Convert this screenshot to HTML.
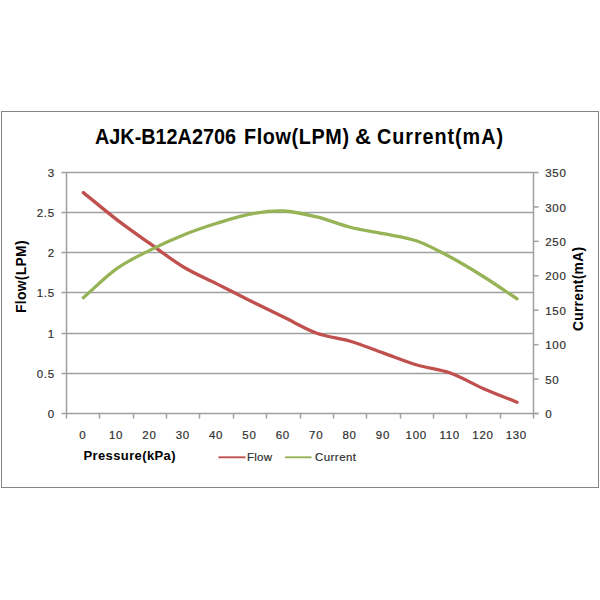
<!DOCTYPE html>
<html><head><meta charset="utf-8"><style>
html,body{margin:0;padding:0;background:#fff;width:600px;height:600px;overflow:hidden}
svg{display:block}
text{font-family:"Liberation Sans",sans-serif;fill:#303030}
.n{font-size:11.5px;letter-spacing:0.7px;stroke:#303030;stroke-width:0.2px}
.g{font-size:11.5px;stroke:#303030;stroke-width:0.2px}
.t{font-size:19.8px;font-weight:bold;fill:#000;stroke:#000;stroke-width:0px}
.b2{font-size:13.8px;font-weight:bold;fill:#000}
.b{font-size:13px;font-weight:bold;fill:#000;stroke:#000;stroke-width:0px}
.gr rect{fill:#A0A0A0}
</style></head><body>
<svg width="600" height="600" viewBox="0 0 600 600">
<rect x="1.5" y="111.5" width="597" height="376" fill="#fff" stroke="#858585" stroke-width="1"/>
<g class="gr">
<rect x="61.5" y="372.75" width="472.00" height="1.5"/>
<rect x="61.5" y="332.75" width="472.00" height="1.5"/>
<rect x="61.5" y="291.75" width="472.00" height="1.5"/>
<rect x="61.5" y="251.75" width="472.00" height="1.5"/>
<rect x="61.5" y="211.75" width="472.00" height="1.5"/>
<rect x="61.5" y="171.75" width="472.00" height="1.5"/>
<rect x="61.5" y="412.75" width="477.00" height="1.5"/>
<rect x="65.75" y="172.0" width="1.5" height="246.50"/>
<rect x="532.75" y="172.0" width="1.5" height="246.50"/>
<rect x="98.75" y="413.5" width="1.5" height="5.00"/>
<rect x="132.75" y="413.5" width="1.5" height="5.00"/>
<rect x="165.75" y="413.5" width="1.5" height="5.00"/>
<rect x="198.75" y="413.5" width="1.5" height="5.00"/>
<rect x="232.75" y="413.5" width="1.5" height="5.00"/>
<rect x="265.75" y="413.5" width="1.5" height="5.00"/>
<rect x="299.75" y="413.5" width="1.5" height="5.00"/>
<rect x="332.75" y="413.5" width="1.5" height="5.00"/>
<rect x="365.75" y="413.5" width="1.5" height="5.00"/>
<rect x="399.75" y="413.5" width="1.5" height="5.00"/>
<rect x="432.75" y="413.5" width="1.5" height="5.00"/>
<rect x="465.75" y="413.5" width="1.5" height="5.00"/>
<rect x="499.75" y="413.5" width="1.5" height="5.00"/>
<rect x="533.5" y="412.75" width="5.00" height="1.5"/>
<rect x="533.5" y="378.32" width="5.00" height="1.5"/>
<rect x="533.5" y="343.89" width="5.00" height="1.5"/>
<rect x="533.5" y="309.46" width="5.00" height="1.5"/>
<rect x="533.5" y="275.04" width="5.00" height="1.5"/>
<rect x="533.5" y="240.61" width="5.00" height="1.5"/>
<rect x="533.5" y="206.18" width="5.00" height="1.5"/>
<rect x="533.5" y="171.75" width="5.00" height="1.5"/>
</g>
<g id="series" transform="translate(0.2,0.5)">
<path d="M83.18,192.10 C94.30,201.10 105.42,210.58 116.54,219.09 C127.65,227.61 138.77,235.29 149.89,243.19 C161.01,251.09 172.13,259.80 183.25,266.49 C194.37,273.18 205.49,277.74 216.61,283.36 C227.73,288.98 238.85,294.70 249.96,300.23 C261.08,305.76 272.20,311.12 283.32,316.54 C294.44,321.96 305.56,328.73 316.68,332.76 C327.80,336.80 338.92,337.41 350.04,340.72 C361.15,344.03 372.27,348.64 383.39,352.61 C394.51,356.57 405.63,361.18 416.75,364.50 C427.87,367.82 438.99,368.58 450.11,372.53 C461.23,376.48 472.35,383.33 483.46,388.19 C494.58,393.06 505.70,397.19 516.82,401.69" fill="none" stroke="#C0504D" stroke-width="3.3" stroke-linecap="round" stroke-linejoin="round"/>
<path d="M83.18,297.13 C94.30,287.49 105.42,276.13 116.54,268.21 C127.65,260.29 138.77,255.24 149.89,249.62 C161.01,244.00 172.13,238.95 183.25,234.47 C194.37,230.00 205.49,226.24 216.61,222.77 C227.73,219.29 238.85,215.65 249.96,213.61 C261.08,211.56 272.20,210.04 283.32,210.51 C294.44,210.98 305.56,213.72 316.68,216.43 C327.80,219.14 338.92,223.96 350.04,226.76 C361.15,229.56 372.27,230.94 383.39,233.23 C394.51,235.53 405.63,236.64 416.75,240.53 C427.87,244.42 438.99,250.62 450.11,256.57 C461.23,262.53 472.35,269.31 483.46,276.27 C494.58,283.22 505.70,290.96 516.82,298.30" fill="none" stroke="#96B356" stroke-width="3.3" stroke-linecap="round" stroke-linejoin="round"/>
</g>
<g id="legend">
<line x1="218.5" y1="457.3" x2="245.5" y2="457.3" stroke="#C0504D" stroke-width="1.9"/>
<line x1="285" y1="457.3" x2="311.5" y2="457.3" stroke="#96B356" stroke-width="1.9"/>
</g>
<text id="l0" class="n" x="54.80" y="417.90" text-anchor="end">0</text>
<text id="l1" class="n" x="54.80" y="377.73" text-anchor="end">0.5</text>
<text id="l2" class="n" x="54.80" y="337.57" text-anchor="end">1</text>
<text id="l3" class="n" x="54.80" y="297.40" text-anchor="end">1.5</text>
<text id="l4" class="n" x="54.80" y="257.23" text-anchor="end">2</text>
<text id="l5" class="n" x="54.80" y="217.07" text-anchor="end">2.5</text>
<text id="l6" class="n" x="54.80" y="176.90" text-anchor="end">3</text>
<text id="r0" class="n" x="545.20" y="418.20">0</text>
<text id="r1" class="n" x="545.20" y="383.77">50</text>
<text id="r2" class="n" x="545.20" y="349.34">100</text>
<text id="r3" class="n" x="545.20" y="314.91">150</text>
<text id="r4" class="n" x="545.20" y="280.49">200</text>
<text id="r5" class="n" x="545.20" y="246.06">250</text>
<text id="r6" class="n" x="545.20" y="211.63">300</text>
<text id="r7" class="n" x="545.20" y="177.20">350</text>
<text id="x0" class="n" x="82.68" y="439.00" text-anchor="middle">0</text>
<text id="x1" class="n" x="116.04" y="439.00" text-anchor="middle">10</text>
<text id="x2" class="n" x="149.39" y="439.00" text-anchor="middle">20</text>
<text id="x3" class="n" x="182.75" y="439.00" text-anchor="middle">30</text>
<text id="x4" class="n" x="216.11" y="439.00" text-anchor="middle">40</text>
<text id="x5" class="n" x="249.46" y="439.00" text-anchor="middle">50</text>
<text id="x6" class="n" x="282.82" y="439.00" text-anchor="middle">60</text>
<text id="x7" class="n" x="316.18" y="439.00" text-anchor="middle">70</text>
<text id="x8" class="n" x="349.54" y="439.00" text-anchor="middle">80</text>
<text id="x9" class="n" x="382.89" y="439.00" text-anchor="middle">90</text>
<text id="x10" class="n" x="416.25" y="439.00" text-anchor="middle">100</text>
<text id="x11" class="n" x="449.61" y="439.00" text-anchor="middle">110</text>
<text id="x12" class="n" x="482.96" y="439.00" text-anchor="middle">120</text>
<text id="x13" class="n" x="516.32" y="439.00" text-anchor="middle">130</text>
<text id="t1" class="t" transform="translate(0,143.90) scale(1,1.0859) translate(0,-143.90)" x="95.00" y="143.90" textLength="141.00" lengthAdjust="spacing">AJK-B12A2706</text>
<text id="t2" class="t" transform="translate(0,143.90) scale(1,1.0859) translate(0,-143.90)" x="244.00" y="143.90" textLength="105.00" lengthAdjust="spacing">Flow(LPM)</text>
<text id="t3" class="t" transform="translate(0,143.90) scale(1,1.0859) translate(0,-143.90)" x="355.00" y="143.90" textLength="16.00" lengthAdjust="spacingAndGlyphs">&amp;</text>
<text id="t4" class="t" transform="translate(0,143.90) scale(1,1.0859) translate(0,-143.90)" x="377.00" y="143.90" textLength="126.00" lengthAdjust="spacing">Current(mA)</text>
<text id="px" class="b" transform="translate(0,460.00) scale(1,1.0) translate(0,-460.00)" x="83.50" y="460.00" textLength="92.00" lengthAdjust="spacing">Pressure(kPa)</text>
<text id="fl" class="b2" transform="translate(26.00,313.00) rotate(-90)" textLength="72.50" lengthAdjust="spacing">Flow(LPM)</text>
<text id="cm" class="b2" transform="translate(582.50,331.00) rotate(-90)" textLength="84.00" lengthAdjust="spacing">Current(mA)</text>
<text id="lg1" class="g" x="247.00" y="461.00" textLength="25.00" lengthAdjust="spacing">Flow</text>
<text id="lg2" class="g" x="315.00" y="461.00" textLength="41.00" lengthAdjust="spacing">Current</text>
</svg>
</body></html>
